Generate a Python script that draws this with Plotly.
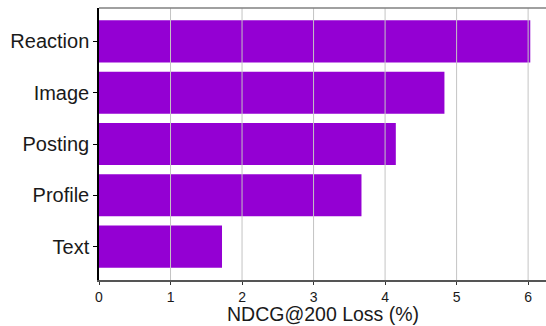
import plotly.graph_objects as go

# Feature groups and the ranking loss observed when each is removed
features = ["Reaction", "Image", "Posting", "Profile", "Text"]
ndcg_loss = [6.03, 4.83, 4.15, 3.67, 1.72]
x_ticks = [0, 1, 2, 3, 4, 5, 6]
x_title = "NDCG@200 Loss (%)"

bar_color = "#9400D3"
font_family = "Liberation Sans, Arial, sans-serif"

fig = go.Figure(
    go.Bar(
        x=ndcg_loss,
        y=features,
        orientation="h",
        marker=dict(color=bar_color, line=dict(width=0)),
        width=0.82,
    )
)

# Vertical grid lines drawn over the bars
for t in x_ticks[1:]:
    fig.add_shape(
        type="line", xref="x", yref="paper", x0=t, x1=t, y0=0, y1=1,
        line=dict(color="#c4c4c4", width=1), layer="above",
    )
# Thin frame line along the top of the plot area
fig.add_shape(
    type="line", xref="paper", yref="paper", x0=0, x1=1, y0=1, y1=1,
    line=dict(color="#808080", width=1.5), layer="above",
)

# x-axis title placed as an annotation pinned to the bottom edge
fig.add_annotation(
    text=x_title, xref="paper", yref="paper", x=0.5, y=0,
    xanchor="center", yanchor="bottom", yshift=-46, showarrow=False,
    borderpad=0,
    font=dict(size=19.5, color="#1a1a1a", family=font_family),
)

fig.update_layout(
    width=546,
    height=326,
    margin=dict(l=99, r=0, t=8, b=46),
    plot_bgcolor="white",
    paper_bgcolor="white",
    showlegend=False,
    font=dict(family=font_family, color="#1a1a1a"),
    xaxis=dict(
        range=[0, 6.25],
        tickvals=x_ticks,
        ticktext=[str(t) for t in x_ticks],
        showgrid=False,
        zeroline=False,
        showline=True,
        linecolor="#555555",
        linewidth=1.5,
        ticks="outside",
        ticklen=3,
        tickcolor="#333333",
        tickfont=dict(size=14, color="#1a1a1a"),
    ),
    yaxis=dict(
        categoryorder="array",
        categoryarray=features[::-1],
        range=[-0.65, 4.65],
        showgrid=False,
        zeroline=False,
        showline=True,
        linecolor="#000000",
        linewidth=1.5,
        ticks="outside",
        ticklen=4,
        tickcolor="#000000",
        tickfont=dict(size=20, color="#1a1a1a"),
    ),
)

fig.write_html("out.html")
